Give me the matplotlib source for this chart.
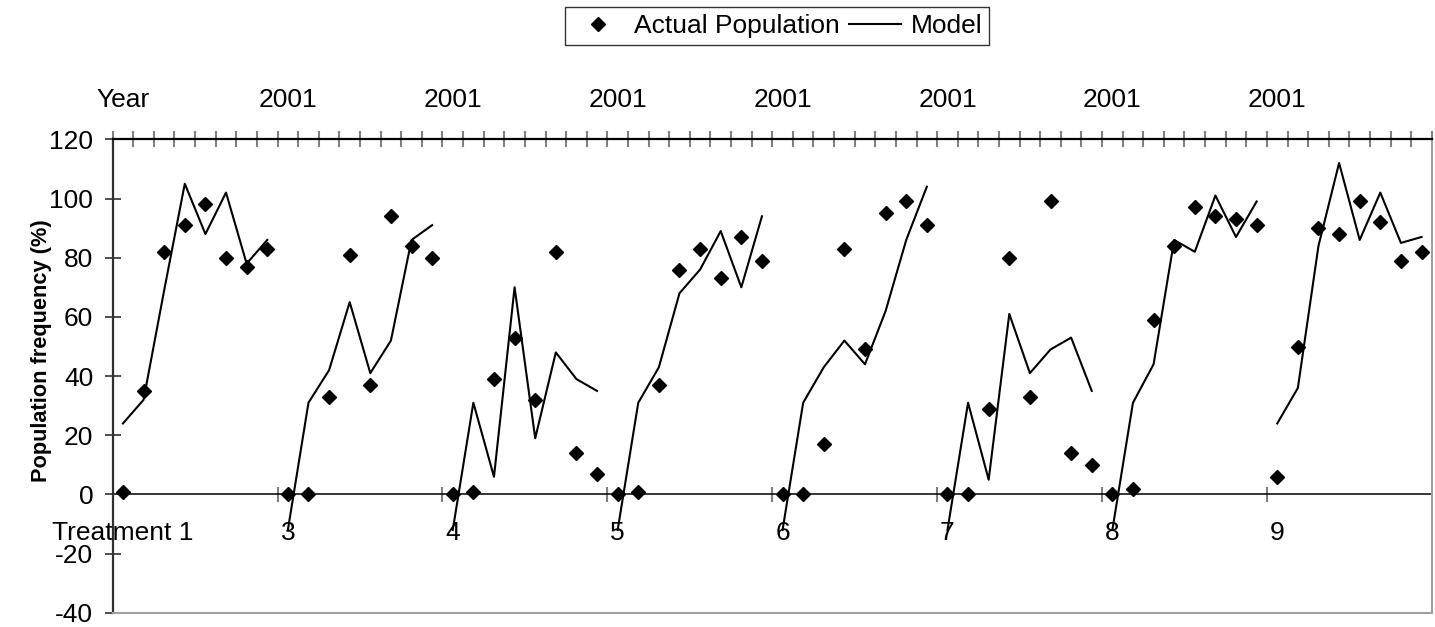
import matplotlib
matplotlib.use("Agg")
import matplotlib.pyplot as plt
from matplotlib.lines import Line2D
import numpy as np

plt.rcParams['font.family'] = ['Liberation Sans', 'DejaVu Sans']
plt.rcParams['axes.unicode_minus'] = False

# 8 treatments x 8 sampling dates
groups = ['Treatment 1', '3', '4', '5', '6', '7', '8', '9']
top_labels = ['Year', '2001', '2001', '2001', '2001', '2001', '2001', '2001']
n_per_group = 8

actual = [
    [1, 35, 82, 91, 98, 80, 77, 83],
    [0, 0, 33, 81, 37, 94, 84, 80],
    [0, 1, 39, 53, 32, 82, 14, 7],
    [0, 1, 37, 76, 83, 73, 87, 79],
    [0, 0, 17, 83, 49, 95, 99, 91],
    [0, 0, 29, 80, 33, 99, 14, 10],
    [0, 2, 59, 84, 97, 94, 93, 91],
    [6, 50, 90, 88, 99, 92, 79, 82],
]
model = [
    [24, 32, 69, 105, 88, 102, 78, 86],
    [-12, 31, 42, 65, 41, 52, 86, 91],
    [-12, 31, 6, 70, 19, 48, 39, 35],
    [-12, 31, 43, 68, 76, 89, 70, 94],
    [-12, 31, 43, 52, 44, 62, 86, 104],
    [-12, 31, 5, 61, 41, 49, 53, 35],
    [-12, 31, 44, 86, 82, 101, 87, 99],
    [24, 36, 84, 112, 86, 102, 85, 87],
]

n_cat = len(groups) * n_per_group
fs = 19

fig = plt.figure(figsize=(14.35, 6.27), dpi=100)
ax = fig.add_axes([0.0785, 0.0225, 0.9193, 0.7553])
ax.set_xlim(-0.5, n_cat - 0.5)
ax.set_ylim(-40, 120)

# series, one broken segment per treatment
for g in range(len(groups)):
    x = np.arange(g * n_per_group, (g + 1) * n_per_group)
    ax.plot(x, model[g], color='black', lw=1.5, zorder=3)
    ax.plot(x, actual[g], ls='none', marker='D', ms=6.7, color='black', zorder=4)

# frame
ax.spines['left'].set_color('#303030')
ax.spines['left'].set_linewidth(1.6)
ax.spines['top'].set_color('black')
ax.spines['top'].set_linewidth(1.6)
for s in ['right', 'bottom']:
    ax.spines[s].set_color('#a0a0a0')
    ax.spines[s].set_linewidth(1.5)

ax.set_yticks(np.arange(-40, 121, 20))
ax.tick_params(axis='y', direction='inout', length=12, width=1.2, color='#303030',
               labelsize=fs, pad=8)
for lbl in ax.get_yticklabels():
    lbl.set_verticalalignment('center_baseline')

# top category ticks
ax.xaxis.set_ticks_position('top')
ax.set_xticks(np.arange(-0.5, n_cat, 1))
ax.tick_params(axis='x', direction='inout', length=11.5, width=1.5, color='#808080',
               labeltop=False, labelbottom=False)

# treatment axis at y = 0
sec = ax.secondary_xaxis(0.25)
sec.spines['bottom'].set_linewidth(1.1)
sec.set_xticks(np.arange(n_per_group - 0.5, n_cat - 1, n_per_group))
sec.tick_params(direction='inout', length=10.8, width=1.5, color='#808080',
                labelbottom=False)

for g, lab in enumerate(groups):
    ax.annotate(lab, xy=(g * n_per_group, 0), xytext=(0, -28),
                textcoords='offset points', ha='center', va='center', fontsize=fs)
for g, lab in enumerate(top_labels):
    ax.annotate(lab, xy=(g * n_per_group, 1), xycoords=('data', 'axes fraction'),
                xytext=(0, 28), textcoords='offset points', ha='center', va='center',
                fontsize=fs)

fig.text(42 / 1435, 1 - 351 / 627, 'Population frequency (%)', rotation=90,
         ha='center', va='center', fontsize=15.7, fontweight='bold')

handles = [Line2D([], [], ls='none', marker='D', ms=6.7, color='black'),
           Line2D([], [], color='black', lw=1.5)]
leg = fig.legend(handles, ['Actual Population', 'Model'], ncol=2, loc='center',
                 bbox_to_anchor=(777 / 1435, 1 - 26 / 627), fontsize=fs,
                 frameon=True, fancybox=False, handlelength=2.0,
                 handletextpad=0.35, columnspacing=0.35, borderpad=0.25,
                 borderaxespad=0)
leg.get_frame().set_edgecolor('black')
leg.get_frame().set_linewidth(1.0)

fig.savefig('out.png', dpi=100)
